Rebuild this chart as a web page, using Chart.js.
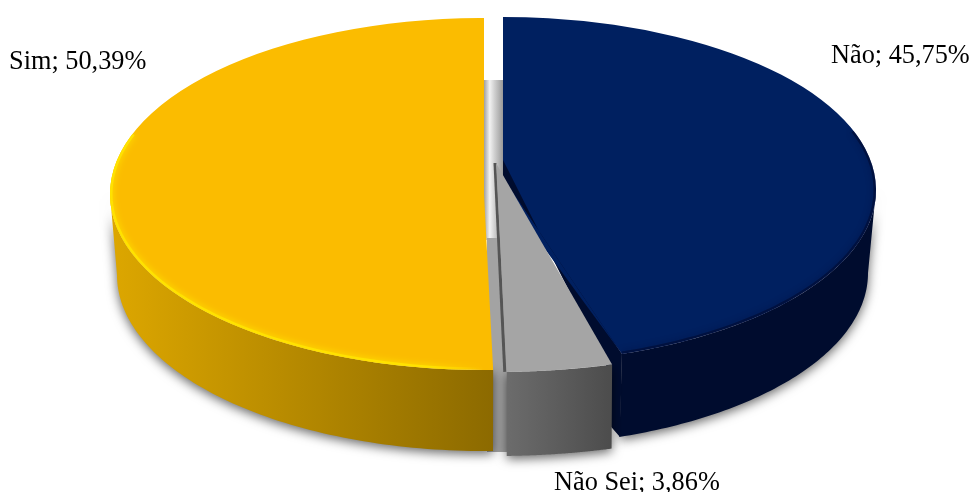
<!DOCTYPE html>
<html>
<head>
<meta charset="utf-8">
<style>
    html, body { margin: 0; padding: 0; background: #fff; }
    #chartBox { width: 971px; height: 492px; }
</style>
</head>
<body>
<div id="chartBox"><canvas id="pieChart"></canvas></div>
<script src="https://cdn.jsdelivr.net/npm/chart.js@4/dist/chart.umd.min.js"></script>
<script>
const categories = ['Não', 'Não Sei', 'Sim'];
const percentValues = [45.75, 3.86, 50.39];

const topColors = ['#002060', '#A5A5A5', '#FBBC00'];
// side wall gradient, left to right
const sideColors = [
    ['#000C2E', '#000C2E'],
    ['#6C6C6C', '#4C4C4C'],
    ['#DDA700', '#8C6A00']
];
const rimColors = ['rgba(0,10,45,0.55)', 'rgba(0,0,0,0)', 'rgba(255,226,0,1)'];
// where each exploded slice sits on the page, and how much it is squashed
const slicePoses = [
    { cx: 503, cy: 190, rx: 373, ry: 173, tilt: -3.3, depth: 83, shrink: 8, clipLeft: true },
    { cx: 496, cy: 163, rx: 440, ry: 209, tilt: 0, depth: 84, shrink: 2 },
    { cx: 484, cy: 194, rx: 374, ry: 176, tilt: 0, depth: 81, shrink: 7 }
];
const labelSpots = [
    { x: 831, y: 63 },
    { x: 554, y: 490 },
    { x: 9, y: 69 }
];

function labelText(i) {
    return categories[i] + '; ' + percentValues[i].toFixed(2).replace('.', ',') + '%';
}

// Point on the rim of a slice, angle in canvas radians
function rimPoint(pose, angle, lower) {
    const a = angle + pose.tilt * Math.PI / 180;
    const rx = lower ? pose.rx - pose.shrink : pose.rx;
    return {
        x: pose.cx + rx * Math.cos(a),
        y: pose.cy + pose.ry * Math.sin(a) + (lower ? pose.depth : 0)
    };
}

// Side wall along the part of the rim that faces the viewer
function drawSide(ctx, arc, i) {
    const pose = slicePoses[i];
    const tiltRad = pose.tilt * Math.PI / 180;
    const from = Math.max(arc.startAngle, -tiltRad);
    const to = Math.min(arc.endAngle, Math.PI - tiltRad);
    if (to <= from) return;
    const steps = 80;
    const upper = [], lower = [];
    for (let s = 0; s <= steps; s++) {
        const t = from + (to - from) * s / steps;
        upper.push(rimPoint(pose, t, false));
        lower.push(rimPoint(pose, t, true));
    }
    const xs = upper.concat(lower).map(p => p.x);
    const grad = ctx.createLinearGradient(Math.min(...xs), 0, Math.max(...xs), 0);
    grad.addColorStop(0, sideColors[i][0]);
    grad.addColorStop(1, sideColors[i][1]);
    ctx.save();
    ctx.shadowColor = 'rgba(0,0,0,0.6)';
    ctx.shadowBlur = 11;
    ctx.shadowOffsetY = 3;
    ctx.fillStyle = grad;
    ctx.beginPath();
    upper.forEach((p, k) => k ? ctx.lineTo(p.x, p.y) : ctx.moveTo(p.x, p.y));
    lower.reverse().forEach(p => ctx.lineTo(p.x, p.y));
    ctx.closePath();
    ctx.fill();
    ctx.restore();
}

// Soft edge just inside the front of the top face
function drawRim(ctx, arc, i) {
    const pose = slicePoses[i];
    const tiltRad = pose.tilt * Math.PI / 180;
    const reach = 20 * Math.PI / 180;
    const from = Math.max(arc.startAngle, -tiltRad - reach);
    const to = Math.min(arc.endAngle, Math.PI - tiltRad + reach);
    ctx.save();
    ctx.beginPath();
    ctx.ellipse(pose.cx, pose.cy, pose.rx, pose.ry, 0, 0, Math.PI * 2);
    ctx.clip();
    const fade = ctx.createLinearGradient(pose.cx - pose.rx, 0, pose.cx, 0);
    fade.addColorStop(0, rimColors[i]);
    fade.addColorStop(0.85, rimColors[i]);
    fade.addColorStop(1, 'rgba(255,226,0,0)');
    ctx.strokeStyle = i === 2 ? fade : rimColors[i];
    ctx.lineWidth = 5;
    ctx.shadowColor = rimColors[i];
    ctx.shadowBlur = 7;
    ctx.beginPath();
    for (let s = 0; s <= 80; s++) {
        const p = rimPoint(pose, from + (to - from) * s / 80, false);
        s ? ctx.lineTo(p.x, p.y) : ctx.moveTo(p.x, p.y);
    }
    ctx.stroke();
    ctx.restore();
}

function drawFace(ctx, arc, i) {
    const pose = slicePoses[i];
    const R = arc.outerRadius;
    ctx.save();
    if (pose.clipLeft) {
        ctx.beginPath();
        ctx.rect(pose.cx, 0, 971 - pose.cx, 492);
        ctx.clip();
    }
    ctx.translate(pose.cx, pose.cy);
    ctx.scale(pose.rx / R, pose.ry / R);
    ctx.rotate(pose.tilt * Math.PI / 180);
    ctx.translate(-arc.x, -arc.y);
    arc.draw(ctx);
    ctx.restore();
}

// Pale grey band seen through the gap between the slices
function drawGapBand(ctx) {
    const left = slicePoses[2].cx;
    const right = slicePoses[0].cx;
    const grad = ctx.createLinearGradient(left, 0, right, 0);
    grad.addColorStop(0, '#A0A0A0');
    grad.addColorStop(0.3, '#F2F2F2');
    grad.addColorStop(0.55, '#D0D0D0');
    grad.addColorStop(1, '#999999');
    ctx.fillStyle = grad;
    ctx.fillRect(left, 80, right - left, 160);
    ctx.fillStyle = '#A3A3A3';
    ctx.fillRect(left + 3, 238, 22, 214);
}

// Dark wall of the Não slice left of its lower edge, partly under Não Sei
function drawInnerWall(ctx, arcs) {
    const pose = slicePoses[0];
    const corner = rimPoint(pose, arcs[0].endAngle, false);
    const seiCorner = rimPoint(slicePoses[1], arcs[1].startAngle, false);
    ctx.fillStyle = '#000C2E';
    ctx.beginPath();
    ctx.moveTo(pose.cx, pose.cy - 30);
    ctx.lineTo(seiCorner.x - 6, seiCorner.y);
    ctx.lineTo(seiCorner.x - 3, seiCorner.y + 60);
    ctx.lineTo(corner.x - 2, corner.y + pose.depth);
    ctx.lineTo(corner.x, corner.y);
    ctx.lineTo(pose.cx, pose.cy - 12);
    ctx.closePath();
    ctx.fill();
    // top face reaches a little above its ellipse centre
    ctx.fillStyle = topColors[0];
    ctx.beginPath();
    ctx.moveTo(pose.cx, pose.cy - 12);
    ctx.lineTo(corner.x, corner.y);
    ctx.lineTo(pose.cx, pose.cy + 2);
    ctx.closePath();
    ctx.fill();
}

// Thin dark wall along the left edge of Não Sei
function drawSeiEdge(ctx, arcs) {
    const pose = slicePoses[1];
    const end = rimPoint(pose, arcs[1].endAngle, false);
    ctx.save();
    ctx.strokeStyle = '#555555';
    ctx.lineWidth = 3;
    ctx.beginPath();
    ctx.moveTo(pose.cx - 1, pose.cy);
    ctx.lineTo(end.x - 2, end.y);
    ctx.stroke();
    ctx.restore();
}

const pie3dPlugin = {
    id: 'pie3d',
    beforeDatasetDraw(chart) {
        const ctx = chart.ctx;
        const arcs = chart.getDatasetMeta(0).data;
        drawGapBand(ctx);
        drawSide(ctx, arcs[0], 0);
        drawSide(ctx, arcs[2], 2);
        drawFace(ctx, arcs[0], 0);
        drawFace(ctx, arcs[2], 2);
        drawRim(ctx, arcs[0], 0);
        drawRim(ctx, arcs[2], 2);
        drawInnerWall(ctx, arcs);
        drawSide(ctx, arcs[1], 1);
        drawSeiEdge(ctx, arcs);
        drawFace(ctx, arcs[1], 1);
        return false;
    },
    afterDraw(chart) {
        const ctx = chart.ctx;
        ctx.save();
        ctx.font = '26.3px "Liberation Serif"';
        ctx.fillStyle = '#000';
        categories.forEach((c, i) => ctx.fillText(labelText(i), labelSpots[i].x, labelSpots[i].y));
        ctx.restore();
    }
};

const pieChart = new Chart(document.getElementById('pieChart').getContext('2d'), {
    type: 'pie',
    data: {
        labels: categories,
        datasets: [{
            data: percentValues,
            backgroundColor: topColors,
            borderWidth: 0
        }]
    },
    options: {
        responsive: true,
        maintainAspectRatio: false,
        animation: false,
        plugins: {
            legend: { display: false },
            tooltip: { enabled: false }
        }
    },
    plugins: [pie3dPlugin]
});
</script>
</body>
</html>
